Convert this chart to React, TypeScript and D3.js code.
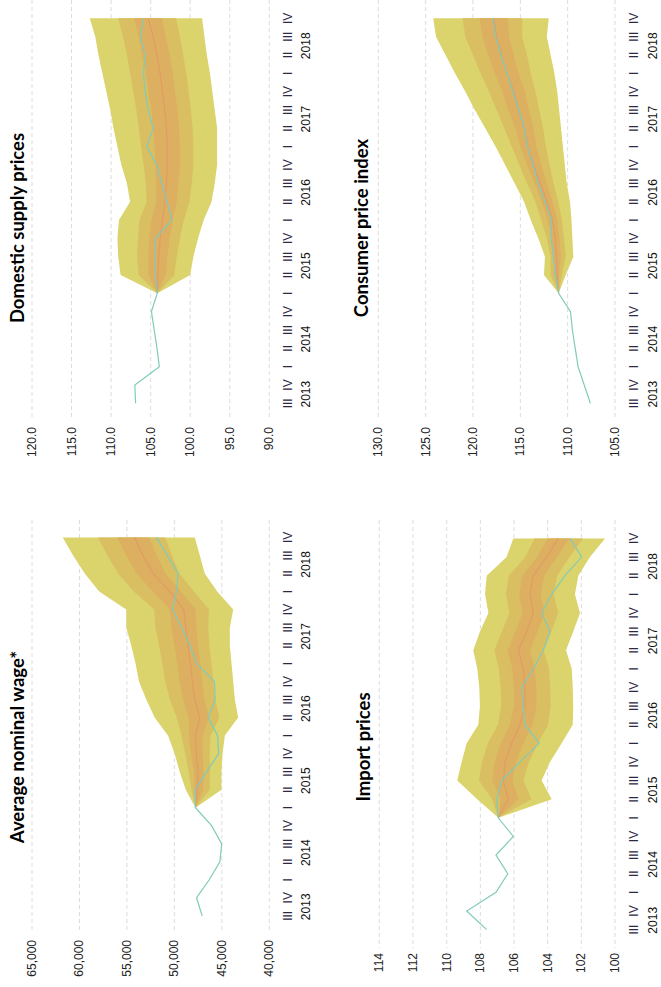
import React from 'react';
import * as d3 from 'd3';

// ---------- categories ----------
const quarterLabels = ['III','IV','I','II','III','IV','I','II','III','IV','I','II','III','IV','I','II','III','IV','I','II','III','IV'];
const yearLabels = ['2013','2014','2015','2016','2017','2018'];
const yearQuarterCounts = [2, 4, 4, 4, 4, 4];
const forecastStart = 6; // 2015 I

// ---------- Domestic supply prices ----------
const domTicks = [90, 95, 100, 105, 110, 115, 120];
const domActual = [106.9, 107.0, 103.9, 104.2, 104.55, 104.9, 104.16, 104.4, 104.5, 104.4, 102.3, 102.95, 103.6, 104.2, 105.5, 104.7, 105.3, 105.7, 105.9, 105.7, 106.3, 105.9];
const domHi90 = [104.16, 108.8, 109.1, 109.2, 109.0, 107.6, 108.0, 108.7, 109.2, 109.7, 110.1, 110.6, 111.1, 111.6, 112.0, 112.7];
const domHi60 = [104.16, 106.5, 106.7, 106.6, 106.4, 105.5, 105.6, 105.9, 106.2, 106.5, 106.8, 107.2, 107.6, 108.0, 108.5, 109.1];
const domHi30 = [104.16, 105.3, 105.3, 105.2, 104.9, 104.3, 104.3, 104.4, 104.5, 104.7, 104.9, 105.3, 105.6, 106.1, 106.5, 107.1];
const domMed = [104.16, 104.1, 104.0, 103.8, 103.5, 103.2, 103.0, 102.9, 102.9, 103.0, 103.2, 103.5, 103.8, 104.2, 104.7, 105.3];
const domLo30 = [104.16, 103.1, 102.9, 102.6, 102.2, 101.7, 101.5, 101.3, 101.3, 101.4, 101.6, 101.9, 102.2, 102.6, 103.1, 103.6];
const domLo60 = [104.16, 102.0, 101.7, 101.3, 100.8, 100.1, 99.8, 99.6, 99.6, 99.7, 99.9, 100.2, 100.5, 100.9, 101.3, 101.8];
const domLo90 = [104.16, 100.0, 99.6, 99.0, 98.3, 97.3, 96.9, 96.6, 96.6, 96.6, 96.9, 97.2, 97.5, 97.9, 98.2, 98.5];

// ---------- Consumer price index ----------
const cpiTicks = [105, 110, 115, 120, 125, 130];
const cpiActual = [107.6, 108.25, 108.9, 109.2, 109.5, 109.7, 110.95, 111.3, 111.5, 111.75, 111.7, 112.4, 113.1, 113.65, 114.25, 114.6, 115.15, 115.8, 116.4, 117.05, 117.6, 117.9];
const cpiHi90 = [110.95, 112.5, 112.4, 113.1, 113.9, 114.6, 115.6, 116.6, 117.6, 118.7, 119.8, 120.8, 121.9, 122.9, 123.9, 124.2];
const cpiHi60 = [110.95, 111.8, 111.8, 112.2, 112.8, 113.4, 114.3, 115.1, 115.9, 116.7, 117.5, 118.3, 119.2, 120.0, 120.8, 121.1];
const cpiHi30 = [110.95, 111.4, 111.5, 111.7, 112.1, 112.75, 113.5, 114.3, 115.0, 115.5, 116.3, 116.9, 117.7, 118.4, 119.0, 119.3];
const cpiMed = [110.95, 111.1, 111.2, 111.3, 111.6, 112.2, 112.9, 113.6, 114.2, 114.6, 115.2, 115.7, 116.4, 117.0, 117.5, 117.8];
const cpiLo30 = [110.95, 110.9, 110.7, 110.85, 111.1, 111.6, 112.2, 112.8, 113.3, 113.6, 114.1, 114.5, 115.2, 115.7, 116.2, 116.3];
const cpiLo60 = [110.95, 110.6, 110.2, 110.4, 110.6, 111.0, 111.5, 111.9, 112.3, 112.6, 113.0, 113.4, 113.9, 114.3, 114.8, 114.8];
const cpiLo90 = [110.95, 110.2, 109.4, 109.5, 109.6, 109.75, 110.1, 110.3, 110.5, 110.7, 110.9, 111.1, 111.4, 111.8, 112.2, 112.0];

// ---------- Average nominal wage ----------
const wageTicks = [40000, 45000, 50000, 55000, 60000, 65000];
const wageActual = [47070, 47670, 46330, 45200, 45020, 46080, 47780, 47800, 46610, 45330, 45450, 46440, 45700, 45780, 47670, 48370, 49250, 50200, 49780, 49610, 50750, 51890];
const wageHi90 = [47780, 48800, 49440, 49970, 50670, 52080, 52960, 53730, 54090, 54540, 55070, 55070, 57920, 59440, 60670, 61760];
const wageHi60 = [47780, 48200, 48490, 48840, 49250, 49750, 50460, 50970, 51260, 51610, 52000, 52100, 54280, 55920, 57060, 58050];
const wageHi30 = [47780, 47870, 47960, 48230, 48480, 48470, 49080, 49450, 49700, 50000, 50310, 50470, 52280, 53980, 55080, 56010];
const wageMed = [47780, 47570, 47500, 47680, 47780, 47320, 47850, 48100, 48310, 48560, 48800, 49010, 50490, 52250, 53310, 54190];
const wageLo30 = [47780, 46960, 46910, 47020, 47040, 46350, 46840, 47070, 47270, 47500, 47690, 47760, 49290, 50940, 51870, 52670];
const wageLo60 = [47780, 46280, 46240, 46280, 46200, 45260, 45700, 45910, 46100, 46310, 46430, 46360, 47940, 49470, 50260, 50960];
const wageLo90 = [47780, 45040, 45040, 44930, 44680, 43280, 43630, 43800, 43980, 44160, 44160, 43800, 45490, 46800, 47320, 47850];

// ---------- Import prices ----------
const impTicks = [100, 102, 104, 106, 108, 110, 112, 114];
const impActual = [107.62, 108.81, 107.07, 106.37, 107.07, 106.04, 106.93, 107.03, 106.73, 105.64, 104.5, 105.35, 105.45, 105.54, 104.85, 104.26, 103.86, 104.36, 103.76, 102.97, 101.98, 102.67];
const impHi90 = [106.93, 108.18, 109.37, 109.11, 108.81, 108.12, 108.02, 108.06, 108.18, 108.42, 108.02, 107.52, 107.72, 107.62, 106.44, 106.04];
const impHi60 = [106.93, 107.3, 108.08, 107.9, 107.55, 106.95, 106.76, 106.79, 106.9, 107.16, 106.72, 106.27, 106.47, 106.32, 105.32, 104.79];
const impHi30 = [106.93, 106.78, 107.29, 107.15, 106.78, 106.24, 105.99, 106.0, 106.1, 106.38, 105.91, 105.49, 105.69, 105.51, 104.63, 104.01];
const impMed = [106.93, 106.34, 106.63, 106.53, 106.14, 105.64, 105.35, 105.35, 105.45, 105.74, 105.25, 104.85, 105.05, 104.85, 104.06, 103.37];
const impLo30 = [106.93, 105.72, 106.09, 105.89, 105.43, 104.89, 104.66, 104.67, 104.76, 105.06, 104.59, 104.19, 104.41, 104.21, 103.44, 102.7];
const impLo60 = [106.93, 104.97, 105.43, 105.12, 104.57, 103.98, 103.83, 103.85, 103.92, 104.24, 103.78, 103.38, 103.64, 103.44, 102.7, 101.9];
const impLo90 = [106.93, 103.76, 104.36, 103.86, 103.17, 102.51, 102.48, 102.51, 102.57, 102.91, 102.48, 102.08, 102.38, 102.18, 101.49, 100.59];

// ---------- styles ----------
const COL_OUTER = '#dbd36b';
const COL_MID = '#d9bf62';
const COL_INNER = '#ddaf60';
const COL_MEDIAN = '#e39b66';
const COL_ACTUAL = '#80cbbb';
const GRID = '#dcdcdc';
const LABEL_FONT = '"Liberation Sans", Arial, sans-serif';
const TITLE_FONT = 'Lato, "Liberation Sans", Arial, sans-serif';

type PanelCfg = {
  title: string;
  titleX: number;
  titleY: number;
  domain: [number, number];
  range: [number, number];
  ticks: number[];
  fmt: (v: number) => string;
  gridTop: number;
  gridBottom: number;
  yBottom: number;
  yTop: number;
  qX: number;
  yrX: number;
  tickEndY: number;
  actual: number[];
  hi90: number[]; hi60: number[]; hi30: number[]; med: number[];
  lo30: number[]; lo60: number[]; lo90: number[];
};

const panels: PanelCfg[] = [
  {
    title: 'Domestic supply prices', titleX: 24, titleY: 228,
    domain: [90, 120], range: [269.3, 32], ticks: domTicks, fmt: d3.format('.1f'),
    gridTop: 0, gridBottom: 420, yBottom: 403.3, yTop: 18.3, qX: 287.5, yrX: 306, tickEndY: 427,
    actual: domActual, hi90: domHi90, hi60: domHi60, hi30: domHi30, med: domMed, lo30: domLo30, lo60: domLo60, lo90: domLo90,
  },
  {
    title: 'Consumer price index', titleX: 368, titleY: 228,
    domain: [105, 130], range: [615, 378.3], ticks: cpiTicks, fmt: d3.format('.1f'),
    gridTop: 0, gridBottom: 420, yBottom: 403.3, yTop: 18.3, qX: 633.5, yrX: 652.5, tickEndY: 427,
    actual: cpiActual, hi90: cpiHi90, hi60: cpiHi60, hi30: cpiHi30, med: cpiMed, lo30: cpiLo30, lo60: cpiLo60, lo90: cpiLo90,
  },
  {
    title: 'Average nominal wage*', titleX: 24, titleY: 747,
    domain: [40000, 65000], range: [269.3, 32], ticks: wageTicks, fmt: d3.format(','),
    gridTop: 520, gridBottom: 933, yBottom: 915.8, yTop: 537.4, qX: 287.5, yrX: 306, tickEndY: 940,
    actual: wageActual, hi90: wageHi90, hi60: wageHi60, hi30: wageHi30, med: wageMed, lo30: wageLo30, lo60: wageLo60, lo90: wageLo90,
  },
  {
    title: 'Import prices', titleX: 370, titleY: 747,
    domain: [100, 114], range: [615, 379.3], ticks: impTicks, fmt: d3.format('d'),
    gridTop: 520, gridBottom: 948, yBottom: 929.6, yTop: 538.4, qX: 633.5, yrX: 652.5, tickEndY: 953,
    actual: impActual, hi90: impHi90, hi60: impHi60, hi30: impHi30, med: impMed, lo30: impLo30, lo60: impLo60, lo90: impLo90,
  },
];

function Panel({ cfg }: { cfg: PanelCfg }) {
  const x = d3.scaleLinear().domain(cfg.domain).range(cfg.range);
  const y = d3.scaleLinear().domain([0, quarterLabels.length - 1]).range([cfg.yBottom, cfg.yTop]);

  const band = (lo: number[], hi: number[]) =>
    d3.area<number>()
      .y((_, k) => y(forecastStart + k))
      .x0((_, k) => x(lo[k]))
      .x1((_, k) => x(hi[k]))(lo) || '';

  const line = (arr: number[], offset: number) =>
    d3.line<number>()
      .x((v) => x(v))
      .y((_, k) => y(offset + k))(arr) || '';

  let start = 0;
  const yearPos = yearQuarterCounts.map((c, j) => {
    const center = start + (c - 1) / 2;
    start += c;
    return { label: yearLabels[j], y: y(center) };
  });

  return (
    <g>
      {cfg.ticks.map((t) => (
        <line key={'g' + t} x1={x(t)} x2={x(t)} y1={cfg.gridTop} y2={cfg.gridBottom}
          stroke={GRID} strokeWidth={1} strokeDasharray="4 3" />
      ))}
      {cfg.ticks.map((t) => (
        <text key={'t' + t} transform={`translate(${x(t)},${cfg.tickEndY}) rotate(-90)`}
          textAnchor="end" dominantBaseline="central" fontFamily={LABEL_FONT} fontSize={12} fill="#222">
          {cfg.fmt(t)}
        </text>
      ))}

      <path d={band(cfg.lo90, cfg.hi90)} fill={COL_OUTER} />
      <path d={band(cfg.lo60, cfg.hi60)} fill={COL_MID} />
      <path d={band(cfg.lo30, cfg.hi30)} fill={COL_INNER} />
      <path d={line(cfg.med, forecastStart)} fill="none" stroke={COL_MEDIAN} strokeWidth={1.2} />
      <path d={line(cfg.actual, 0)} fill="none" stroke={COL_ACTUAL} strokeWidth={1.2} />

      {quarterLabels.map((q, i) => (
        <text key={'q' + i} transform={`translate(${cfg.qX},${y(i)}) rotate(-90)`}
          textAnchor="middle" dominantBaseline="central" fontFamily={LABEL_FONT} fontSize={12} fill="#2e2845">
          {q}
        </text>
      ))}
      {yearPos.map((yp) => (
        <text key={'y' + yp.label} transform={`translate(${cfg.yrX},${yp.y}) rotate(-90)`}
          textAnchor="middle" dominantBaseline="central" fontFamily={LABEL_FONT} fontSize={12} fill="#111">
          {yp.label}
        </text>
      ))}

      <text transform={`translate(${cfg.titleX},${cfg.titleY}) rotate(-90)`}
        textAnchor="middle" fontFamily={TITLE_FONT} fontWeight="bold" fontSize={18.5} fill="#000">
        {cfg.title}
      </text>
    </g>
  );
}

export default function App() {
  return (
    <svg width={661} height={987} viewBox="0 0 661 987"
      style={{ position: 'absolute', left: 0, top: 0, background: '#fff' }}>
      <rect x={0} y={0} width={661} height={987} fill="#fff" />
      {panels.map((p) => (
        <Panel key={p.title} cfg={p} />
      ))}
    </svg>
  );
}
